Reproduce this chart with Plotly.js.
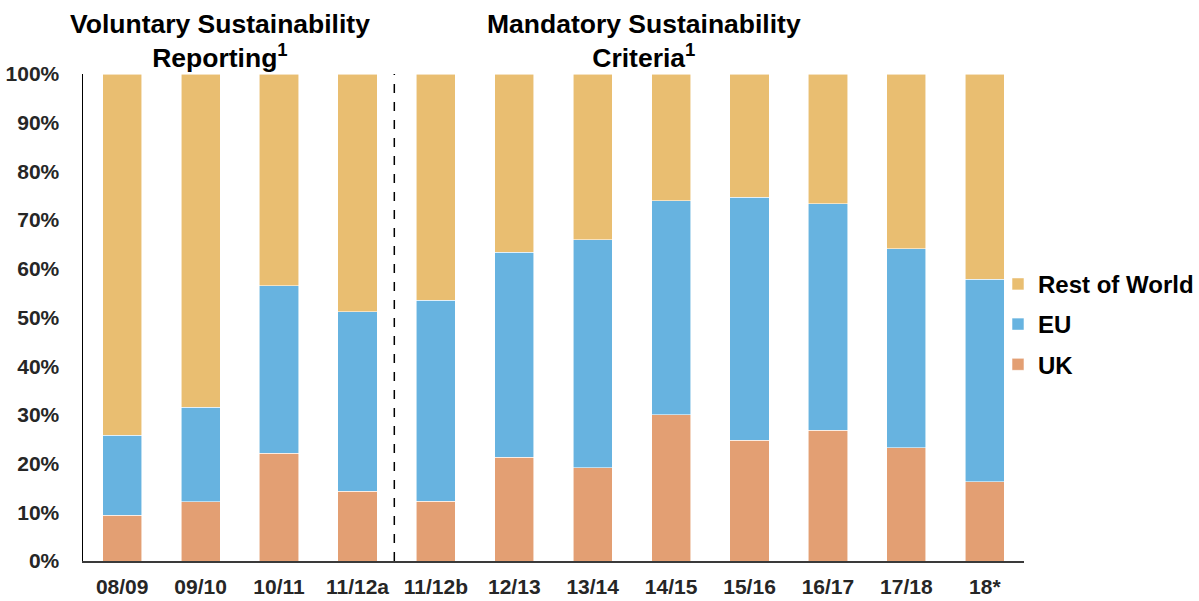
<!DOCTYPE html>
<html>
<head>
<meta charset="utf-8">
<script src="https://cdn.plot.ly/plotly-3.0.1.min.js"></script>
<style>html,body{margin:0;padding:0;background:#fff;}#chart{width:1199px;height:601px;}</style>
</head>
<body>
<div id="chart"></div>
<script>
const categories = ['08/09','09/10','10/11','11/12a','11/12b','12/13','13/14','14/15','15/16','16/17','17/18','18*'];
const ukShare = [9.4, 12.2, 22.1, 14.3, 12.3, 21.3, 19.2, 30.0, 24.8, 26.8, 23.3, 16.3];
const euShare = [16.4, 19.4, 34.4, 36.9, 41.2, 42.1, 46.8, 44.0, 49.9, 46.6, 40.8, 41.6];
const rowShare = [74.2, 68.4, 43.5, 48.8, 46.5, 36.6, 34.0, 26.0, 25.3, 26.6, 35.9, 42.1];
const seriesNames = ['UK', 'EU', 'Rest of World'];
const legendRanks = [3, 2, 1];
const colors = ['#E39F73', '#67B3E0', '#E9BE71'];
const sectionTitles = ['Voluntary Sustainability<br>Reporting<sup>1</sup>', 'Mandatory Sustainability<br>Criteria<sup>1</sup>'];

const FONT = 'Liberation Sans, Arial, sans-serif';
const data = [ukShare, euShare, rowShare].map((vals, i) => ({
  type: 'bar',
  x: categories,
  y: vals,
  name: seriesNames[i],
  legendgroup: 'g' + i,
  legendrank: legendRanks[i],
  width: 0.5,
  marker: {color: colors[i], line: {color: 'rgba(255,255,255,0.7)', width: 0.8}},
  hoverinfo: 'skip'
}));

// plot area: x 83..1024 px; paper spans 83..1199 (width 1116)
const layout = {
  width: 1199, height: 601,
  margin: {l: 83, r: 0, t: 74, b: 40, pad: 0},
  barmode: 'stack',
  paper_bgcolor: '#fff', plot_bgcolor: '#fff',
  font: {family: FONT, color: '#262626'},
  showlegend: true,
  legend: {
    x: 1, xanchor: 'right', y: 0.486, yanchor: 'middle',
    traceorder: 'grouped', tracegroupgap: 6,
    font: {family: FONT, size: 24, color: '#000', weight: 'bold'},
    bgcolor: 'rgba(0,0,0,0)', borderwidth: 0
  },
  xaxis: {
    type: 'category', range: [-0.5, 11.5], domain: [0, 941 / 1116],
    showline: true, linecolor: '#3a3a3a', linewidth: 2,
    showgrid: false, zeroline: false,
    ticks: 'outside', ticklen: 6, tickcolor: 'rgba(0,0,0,0)',
    tickfont: {family: FONT, size: 21, color: '#262626', weight: 'bold'}
  },
  yaxis: {
    range: [0, 100], dtick: 10, ticksuffix: '%',
    showline: true, linecolor: '#000', linewidth: 1.5,
    showgrid: false, zeroline: false,
    ticks: 'outside', ticklen: 18, tickcolor: 'rgba(0,0,0,0)',
    tickfont: {family: FONT, size: 21, color: '#262626', weight: 'bold'}
  },
  shapes: [{
    type: 'line', xref: 'x', yref: 'paper', x0: 3.47, x1: 3.47, y0: 0, y1: 1,
    line: {color: '#000', width: 1.5, dash: 'dash'}
  }],
  annotations: [
    {text: sectionTitles[0], xref: 'paper', yref: 'paper', x: (220 - 83) / 1116, y: 1.068, xanchor: 'center', yanchor: 'middle', showarrow: false,
     font: {family: FONT, size: 26.5, color: '#000', weight: 'bold'}},
    {text: sectionTitles[1], xref: 'paper', yref: 'paper', x: (644 - 83) / 1116, y: 1.068, xanchor: 'center', yanchor: 'middle', showarrow: false,
     font: {family: FONT, size: 26.5, color: '#000', weight: 'bold'}}
  ]
};

Plotly.newPlot('chart', data, layout, {displayModeBar: false, staticPlot: true});
</script>
</body>
</html>
